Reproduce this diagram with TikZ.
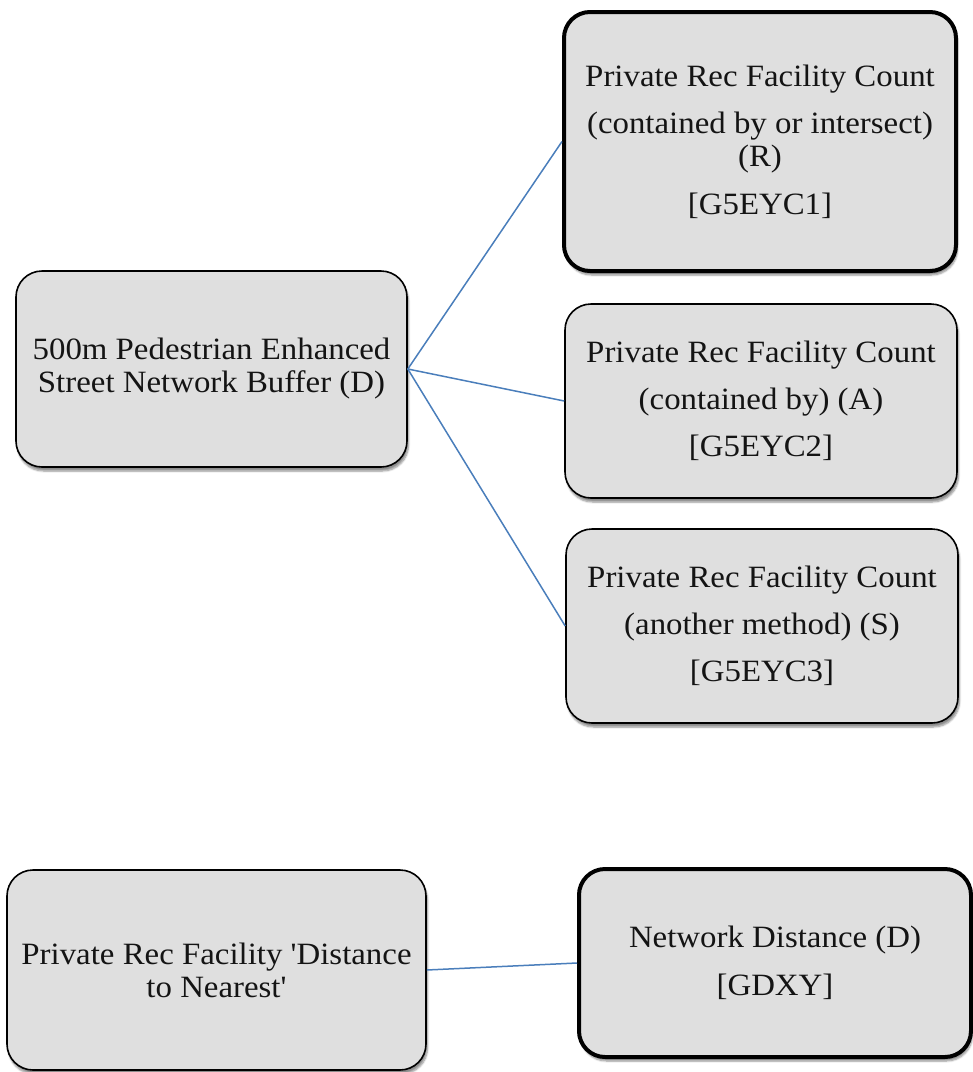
\documentclass[tikz,border=0pt]{standalone}
\usepackage{fontspec}
\setmainfont{Liberation Serif}[FakeStretch=1.06, Ligatures=TeXOff]
\usetikzlibrary{shadows.blur}
\definecolor{boxfill}{HTML}{DFDFDF}
\definecolor{linkblue}{HTML}{4A7EBB}
\definecolor{txt}{HTML}{141414}
\tikzset{
  box/.style={draw=black, fill=boxfill, rounded corners=26pt, line width=1.6pt,
    align=center, inner sep=0pt, text=txt,
    font=\fontsize{31}{33}\selectfont,
    blur shadow={shadow xshift=1.5pt, shadow yshift=-4pt, shadow blur steps=6, shadow opacity=45}},
  boldbox/.style={box, line width=4pt},
  link/.style={draw=linkblue, line width=1.5pt}
}
\begin{document}
\begin{tikzpicture}[x=1pt,y=-1pt]
\useasboundingbox (0,0) rectangle (973,1072);
\node[box, minimum width=391pt, minimum height=196pt] (D) at (211.5,369)
  {500m Pedestrian Enhanced\\Street Network Buffer (D)};
\node[boldbox, minimum width=392pt, minimum height=259pt] (R) at (760,141.5)
  {Private Rec Facility Count\\[14pt](contained by or intersect)\\(R)\\[15pt][G5EYC1]};
\node[box, minimum width=392pt, minimum height=194pt] (A) at (761,401)
  {Private Rec Facility Count\\[14pt](contained by) (A)\\[14pt][G5EYC2]};
\node[box, minimum width=392pt, minimum height=194pt] (S) at (762,626)
  {Private Rec Facility Count\\[14pt](another method) (S)\\[14pt][G5EYC3]};
\node[box, minimum width=419pt, minimum height=200pt] (P) at (216.5,970)
  {Private Rec Facility 'Distance\\to Nearest'};
\node[boldbox, minimum width=392pt, minimum height=188pt] (N) at (775,963)
  {Network Distance (D)\\[15pt][GDXY]};
\draw[link] (D.east) -- (R.west);
\draw[link] (D.east) -- (A.west);
\draw[link] (D.east) -- (S.west);
\draw[link] (P.east) -- (N.west);
\end{tikzpicture}
\end{document}
